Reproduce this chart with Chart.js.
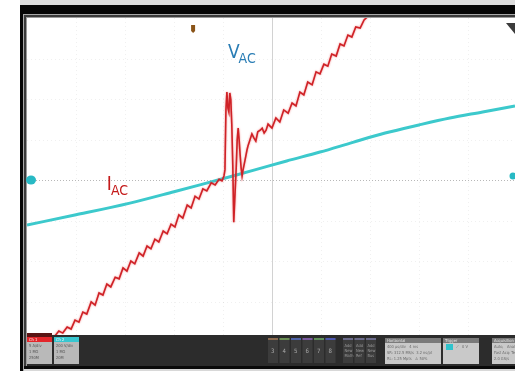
<!DOCTYPE html>
<html>
<head>
<meta charset="utf-8">
<script src="https://cdn.jsdelivr.net/npm/chart.js@4/dist/chart.umd.min.js"></script>
<style>
  html, body { margin: 0; padding: 0; background: #ffffff; }
  canvas { display: block; }
</style>
</head>
<body>
<canvas id="scope" width="515" height="371"></canvas>
<script>
// Screen units: horizontal and vertical graticule divisions (0,0 = screen centre)

// Line current trace
const iacTime = [
  -5.00, -4.73, -4.49, -4.43,
  -4.35, -4.27, -4.18, -4.10, -4.02, -3.94, -3.86, -3.78, -3.69, -3.61,
  -3.53, -3.45, -3.37, -3.29, -3.20, -3.12, -3.04, -2.96, -2.88, -2.80,
  -2.71, -2.63, -2.55, -2.47, -2.39, -2.31, -2.22, -2.14, -2.06, -1.98,
  -1.90, -1.82, -1.73, -1.65, -1.57, -1.49, -1.41, -1.33, -1.24, -1.16,
  -1.08, -1.02, -0.98,
  -0.96, -0.94, -0.92, -0.90, -0.88, -0.86, -0.84, -0.82, -0.80, -0.78,
  -0.76, -0.73, -0.71, -0.69, -0.67, -0.65, -0.63, -0.61, -0.59, -0.55,
  -0.51, -0.49, -0.45, -0.41, -0.37, -0.33, -0.29, -0.24, -0.20, -0.16,
  -0.12, -0.08, -0.04, 0.00,
  0.08, 0.16, 0.24, 0.33, 0.41, 0.49, 0.57, 0.65, 0.73, 0.82,
  0.90, 0.98, 1.06, 1.14, 1.22, 1.31, 1.39, 1.47, 1.55, 1.63,
  1.71, 1.80, 1.88, 1.94
];
const iacLevel = [
  -3.90, -3.88, -3.85, -3.85,
  -3.73, -3.78, -3.63, -3.68, -3.46, -3.51, -3.26, -3.31, -3.01, -3.09,
  -2.79, -2.84, -2.57, -2.64, -2.40, -2.44, -2.17, -2.25, -2.00, -2.07,
  -1.80, -1.88, -1.63, -1.70, -1.46, -1.53, -1.26, -1.33, -1.09, -1.16,
  -0.86, -0.94, -0.62, -0.69, -0.40, -0.47, -0.22, -0.27, -0.07, -0.12,
  0.02, -0.02, 0.10,
  0.25, 1.73, 2.17, 1.78, 1.68, 2.15, 1.98, 1.36, 0.37, -1.04,
  -0.49, 0.30, 0.99, 1.28, 0.99, 0.62, 0.30, 0.10, 0.25, 0.49,
  0.74, 0.84, 0.99, 1.14, 1.04, 0.96, 1.19, 1.23, 1.28, 1.16,
  1.23, 1.38, 1.33, 1.28,
  1.53, 1.43, 1.73, 1.65, 1.90, 1.83, 2.17, 2.10, 2.42, 2.35,
  2.67, 2.62, 2.86, 2.81, 3.11, 3.06, 3.36, 3.31, 3.58, 3.53,
  3.78, 3.75, 3.95, 4.02
];

// Line voltage trace
const vacTime  = [-5.00, -4.00, -2.90, -2.00, -1.47, -0.80, -0.35, 0.30, 0.98, 1.65, 2.31, 3.00, 3.63, 4.30, 4.96];
const vacLevel = [-1.11, -0.86, -0.57, -0.29, -0.12, 0.10, 0.25, 0.47, 0.69, 0.93, 1.16, 1.36, 1.53, 1.68, 1.83];

// Graticule
const xGrid = [-4, -3, -2, -1, 0, 1, 2, 3, 4];
const yGrid = [-3, -2, -1, 0, 1, 2, 3];

// Markers and trace labels (screen divisions)
const triggerPosition = -1.61;
const vacLabel = { main: 'V', sub: 'AC', x: -0.90, y: 3.01, color: '#2a7db5' };
const iacLabel = { main: 'I', sub: 'AC', x: -3.37, y: -0.25, color: '#c41a1a' };

// Bottom status bar
const channelBoxes = [
  { title: 'Ch 1', lines: ['5 A/div', '1 MΩ', '250M'], color: '#e3262b' },
  { title: 'Ch 2', lines: ['200 V/div', '1 MΩ', '20M'], color: '#38c6d0' }
];
const spareChannels = ['3', '4', '5', '6', '7', '8'];
const spareColors = ['#8a6a50', '#6b8f55', '#4f63a8', '#7a5aa0', '#5f8f5a', '#4e58b0'];
const addButtons = [['Add', 'New', 'Math'], ['Add', 'New', 'Ref'], ['Add', 'New', 'Bus']];
const horizontalText = ['Horizontal', '400 µs/div   4 ms', 'SR: 312.5 MS/s  3.2 ns/pt', 'RL: 1.25 Mpts   ⚠ 50%'];
const triggerText = ['Trigger', '1', '⟋', '0 V'];
const acquisitionText = ['Acquisition', 'Auto,   Analyze', 'Fast Acq: Temp', '2.0 GS/s'];

const FONT = "'Liberation Sans Narrow', 'DejaVu Sans Condensed', 'Roboto', 'Liberation Sans', sans-serif";

const scopePlugin = {
  id: 'scopeScreen',
  beforeDraw(chart) {
    const { ctx, chartArea: a, scales: { x, y } } = chart;
    const W = chart.width, H = chart.height;
    ctx.save();
    ctx.fillStyle = '#ffffff';
    ctx.fillRect(0, 0, W, H);
    // instrument bezel
    ctx.fillStyle = '#dcdcdc';
    ctx.fillRect(20, 0, W - 20, 5);
    ctx.fillStyle = '#050505';
    ctx.fillRect(20, 5, W - 20, 9);
    ctx.fillRect(20, 5, 3, H - 5);
    ctx.fillStyle = '#a8a8a8';
    ctx.fillRect(23, 14, W - 23, 1);
    ctx.fillRect(23, 14, 1, H - 14);
    ctx.fillStyle = '#3a3a3a';
    ctx.fillRect(24, 15, W - 24, 2);
    ctx.fillRect(24, 15, 2, H - 15);
    ctx.fillStyle = '#9a9a9a';
    ctx.fillRect(26, 17, W - 26, 1);
    ctx.fillRect(26, 17, 1, H - 17);
    // graticule
    ctx.lineWidth = 1;
    ctx.strokeStyle = 'rgba(0,0,0,0.06)';
    ctx.setLineDash([1, 3]);
    xGrid.forEach(v => {
      if (v === 0) return;
      const px = Math.round(x.getPixelForValue(v)) + 0.5;
      ctx.beginPath(); ctx.moveTo(px, a.top); ctx.lineTo(px, a.bottom); ctx.stroke();
    });
    yGrid.forEach(v => {
      if (v === 0) return;
      const py = Math.round(y.getPixelForValue(v)) + 0.5;
      ctx.beginPath(); ctx.moveTo(a.left, py); ctx.lineTo(a.right, py); ctx.stroke();
    });
    // centre crosshair
    ctx.setLineDash([]);
    ctx.strokeStyle = '#d2d2d2';
    const cx = Math.round(x.getPixelForValue(0)) + 0.5;
    ctx.beginPath(); ctx.moveTo(cx, a.top); ctx.lineTo(cx, a.bottom); ctx.stroke();
    ctx.strokeStyle = '#b8b8b8';
    ctx.setLineDash([1, 2]);
    const cy = Math.round(y.getPixelForValue(0)) + 0.5;
    ctx.beginPath(); ctx.moveTo(a.left, cy); ctx.lineTo(a.right, cy); ctx.stroke();
    ctx.restore();
  },
  beforeDatasetDraw(chart, args) {
    if (args.index === 0) {
      chart.ctx.save();
      chart.ctx.shadowColor = 'rgba(235,90,90,0.75)';
      chart.ctx.shadowBlur = 2;
    }
  },
  afterDatasetDraw(chart, args) {
    if (args.index === 0) chart.ctx.restore();
  },
  afterDatasetsDraw(chart) {
    const { ctx, chartArea: a, scales: { x, y } } = chart;
    ctx.save();
    // trace labels
    [vacLabel, iacLabel].forEach(l => {
      const px = x.getPixelForValue(l.x), py = y.getPixelForValue(l.y);
      ctx.fillStyle = l.color;
      ctx.textBaseline = 'alphabetic';
      ctx.textAlign = 'left';
      ctx.font = `19px ${FONT}`;
      ctx.fillText(l.main, px, py);
      const w = ctx.measureText(l.main).width;
      ctx.font = `14px ${FONT}`;
      ctx.fillText(l.sub, px + w - 1, py + 5);
    });
    // trigger position marker
    const tx = x.getPixelForValue(triggerPosition);
    ctx.fillStyle = '#8a5418';
    ctx.beginPath();
    ctx.moveTo(tx - 2, a.top + 7);
    ctx.lineTo(tx + 2, a.top + 7);
    ctx.lineTo(tx + 2, a.top + 13);
    ctx.lineTo(tx, a.top + 15);
    ctx.lineTo(tx - 2, a.top + 13);
    ctx.closePath();
    ctx.fill();
    // trigger level arrow (top right)
    ctx.fillStyle = '#3c3c3c';
    ctx.beginPath();
    ctx.moveTo(a.right - 9, a.top + 5);
    ctx.lineTo(a.right, a.top + 5);
    ctx.lineTo(a.right, a.top + 16);
    ctx.closePath();
    ctx.fill();
    // channel ground markers
    const gy = y.getPixelForValue(0);
    ctx.fillStyle = '#28b9c4';
    ctx.beginPath();
    ctx.ellipse(a.left + 4, gy, 5, 4.5, 0, 0, Math.PI * 2);
    ctx.fill();
    ctx.beginPath();
    ctx.arc(a.right - 2, gy - 4, 3.5, 0, Math.PI * 2);
    ctx.fill();
    ctx.restore();
  },
  afterDraw(chart) {
    const { ctx, chartArea: a } = chart;
    const W = chart.width;
    ctx.save();
    const top = 335, bottom = 366;
    ctx.fillStyle = '#2c2c2c';
    ctx.fillRect(a.left, top, W - a.left, bottom - top);
    ctx.fillStyle = '#0a0a0a';
    ctx.fillRect(a.left - 3, bottom, W - a.left + 3, 3);
    ctx.fillStyle = '#d8d8d8';
    ctx.fillRect(a.left - 3, bottom + 3, W - a.left + 3, 2);
    ctx.textBaseline = 'top';
    ctx.textAlign = 'left';
    // channel badges
    channelBoxes.forEach((c, i) => {
      const bx = 27 + i * 27, bw = 25;
      if (i === 0) { ctx.fillStyle = '#5a1414'; ctx.fillRect(bx, 333, bw, 4); }
      ctx.fillStyle = c.color;
      ctx.fillRect(bx, 337, bw, 5);
      ctx.fillStyle = '#b9b9b9';
      ctx.fillRect(bx, 342, bw, 22);
      ctx.font = `4px ${FONT}`;
      ctx.fillStyle = '#ffffff';
      ctx.fillText(c.title, bx + 2, 337.5);
      ctx.fillStyle = '#555555';
      c.lines.forEach((t, k) => ctx.fillText(t, bx + 2, 344 + k * 6));
    });
    // spare channel buttons
    spareChannels.forEach((d, i) => {
      const bx = 268 + i * 11.5;
      ctx.fillStyle = '#3c3c3c';
      ctx.fillRect(bx, 338, 10, 25);
      ctx.fillStyle = spareColors[i];
      ctx.fillRect(bx, 338, 10, 2);
      ctx.fillStyle = '#a8a8a8';
      ctx.font = `6px ${FONT}`;
      ctx.fillText(d, bx + 3, 348);
    });
    addButtons.forEach((lines, i) => {
      const bx = 343 + i * 11.5;
      ctx.fillStyle = '#3c3c3c';
      ctx.fillRect(bx, 338, 10, 25);
      ctx.fillStyle = '#6a6a8a';
      ctx.fillRect(bx, 338, 10, 2);
      ctx.fillStyle = '#9a9a9a';
      ctx.font = `4px ${FONT}`;
      lines.forEach((t, k) => ctx.fillText(t, bx + 1.5, 344 + k * 5));
    });
    // info panels
    const panel = (bx, bw, lines) => {
      ctx.fillStyle = '#7a7a7a';
      ctx.fillRect(bx, 338, bw, 5);
      ctx.fillStyle = '#c9c9c9';
      ctx.fillRect(bx, 343, bw, 21);
      ctx.font = `4px ${FONT}`;
      ctx.fillStyle = '#e8e8e8';
      ctx.fillText(lines[0], bx + 2, 338.5);
      ctx.fillStyle = '#6a6a6a';
    };
    panel(385, 56, horizontalText);
    horizontalText.slice(1).forEach((t, k) => ctx.fillText(t, 387, 345 + k * 6));
    panel(443, 36, triggerText);
    ctx.fillStyle = '#30c3cc';
    ctx.fillRect(446, 344, 7, 6);
    ctx.fillStyle = '#6a6a6a';
    ctx.fillText(triggerText[2], 456, 345);
    ctx.fillText(triggerText[3], 462, 345);
    panel(492, 30, acquisitionText);
    acquisitionText.slice(1).forEach((t, k) => ctx.fillText(t, 494, 345 + k * 6));
    ctx.restore();
  }
};

new Chart(document.getElementById('scope'), {
  type: 'line',
  data: {
    datasets: [
      {
        label: 'IAC',
        data: iacTime.map((t, i) => ({ x: t, y: iacLevel[i] })),
        borderColor: '#cf2227',
        borderWidth: 1.6,
        pointRadius: 0,
        tension: 0
      },
      {
        label: 'VAC',
        data: vacTime.map((t, i) => ({ x: t, y: vacLevel[i] })),
        borderColor: '#3cc9cc',
        borderWidth: 3,
        pointRadius: 0,
        tension: 0.4,
        cubicInterpolationMode: 'monotone'
      }
    ]
  },
  options: {
    responsive: false,
    devicePixelRatio: 1,
    animation: false,
    events: [],
    layout: { padding: { left: 27, right: 0, top: 18, bottom: 29 } },
    plugins: { legend: { display: false }, tooltip: { enabled: false } },
    scales: {
      x: { type: 'linear', min: -5, max: 4.96, display: false },
      y: { type: 'linear', min: -4, max: 4, display: false }
    }
  },
  plugins: [scopePlugin]
});
</script>
</body>
</html>
